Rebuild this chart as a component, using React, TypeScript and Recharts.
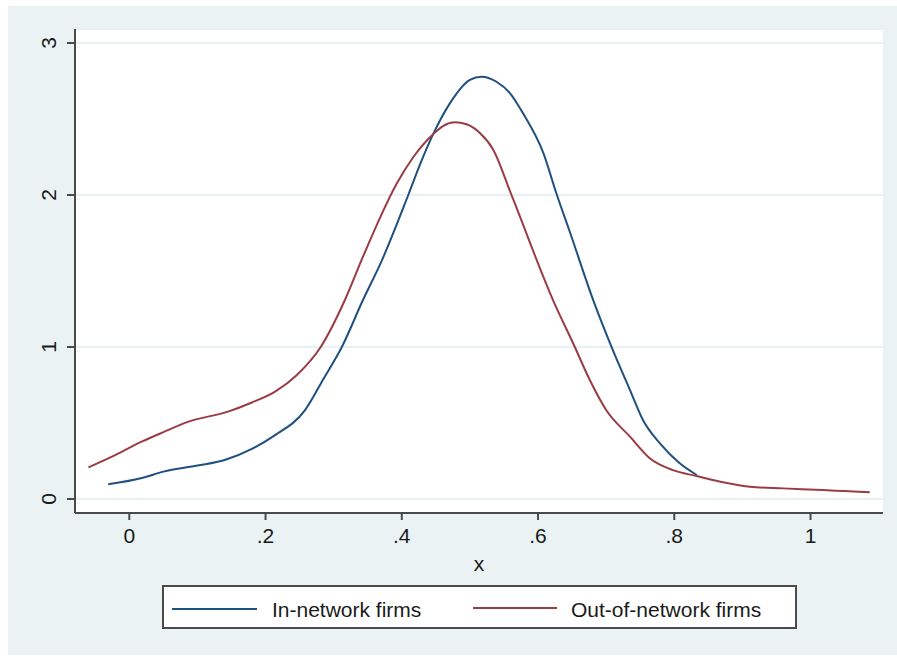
import React from 'react';
import { LineChart, Line, XAxis, YAxis, CartesianGrid } from 'recharts';

// In-network firms (kernel density)
const inNetworkX = [-0.031, 0.02, 0.05, 0.10, 0.14, 0.18, 0.214, 0.258, 0.285, 0.312, 0.343, 0.371, 0.4095, 0.4267, 0.446, 0.4706, 0.50, 0.517, 0.539, 0.559, 0.578, 0.608, 0.627, 0.6465, 0.681, 0.708, 0.735, 0.754, 0.779, 0.808, 0.833];
const inNetworkY = [0.097, 0.14, 0.18, 0.22, 0.257, 0.33, 0.42, 0.585, 0.79, 1.0, 1.309, 1.572, 2.0, 2.20, 2.40, 2.603, 2.757, 2.778, 2.745, 2.669, 2.537, 2.274, 2.01, 1.76, 1.309, 1.0, 0.717, 0.52, 0.366, 0.235, 0.158];

// Out-of-network firms (kernel density)
const outNetworkX = [-0.06, -0.02, 0.018, 0.05, 0.087, 0.145, 0.18, 0.214, 0.246, 0.281, 0.3165, 0.343, 0.368, 0.392, 0.417, 0.446, 0.461, 0.478, 0.495, 0.515, 0.534, 0.561, 0.622, 0.654, 0.676, 0.70, 0.735, 0.764, 0.798, 0.833, 0.866, 0.911, 0.96, 1.018, 1.05, 1.087];
const outNetworkY = [0.208, 0.29, 0.377, 0.44, 0.509, 0.575, 0.635, 0.706, 0.816, 1.0, 1.309, 1.594, 1.85, 2.07, 2.25, 2.40, 2.455, 2.478, 2.465, 2.406, 2.30, 2.0, 1.309, 1.0, 0.783, 0.586, 0.41, 0.268, 0.19, 0.151, 0.115, 0.081, 0.07, 0.059, 0.052, 0.044];

const seriesNames = ['In-network firms', 'Out-of-network firms'];
const seriesColors = ['#1f5080', '#9a3c44'];

const xTicks = [0, 0.2, 0.4, 0.6, 0.8, 1];
const xTickLabels = ['0', '.2', '.4', '.6', '.8', '1'];
const yTicks = [0, 1, 2, 3];
const yTickLabels = ['0', '1', '2', '3'];
const xAxisTitle = 'x';

const inNetworkData = inNetworkX.map((x, i) => ({ x, y: inNetworkY[i] }));
const outNetworkData = outNetworkX.map((x, i) => ({ x, y: outNetworkY[i] }));

const FONT = '"Liberation Sans", Arial, Helvetica, sans-serif';
const TEXT_COLOR = '#1a1a1a';
const AXIS_COLOR = '#4a4a4a';

const XTick = (props: any) => {
  const { x, y, payload } = props;
  const idx = xTicks.indexOf(payload.value);
  const label = idx >= 0 ? xTickLabels[idx] : String(payload.value);
  return (
    <text x={x} y={y} dy={15} textAnchor="middle" fontFamily={FONT} fontSize={21} fill={TEXT_COLOR}>
      {label}
    </text>
  );
};

const YTick = (props: any) => {
  const { y, payload } = props;
  const idx = yTicks.indexOf(payload.value);
  const label = idx >= 0 ? yTickLabels[idx] : String(payload.value);
  const cx = 40;
  return (
    <text
      x={cx}
      y={y}
      dy="0.36em"
      transform={`rotate(-90, ${cx}, ${y})`}
      textAnchor="middle"
      fontFamily={FONT}
      fontSize={21}
      fill={TEXT_COLOR}
    >
      {label}
    </text>
  );
};

const XLabel = (props: any) => {
  const vb = props.viewBox || {};
  const cx = (vb.x || 0) + (vb.width || 0) / 2;
  const y = (vb.y || 0) + 58;
  return (
    <text x={cx} y={y} textAnchor="middle" fontFamily={FONT} fontSize={21} fill={TEXT_COLOR}>
      {xAxisTitle}
    </text>
  );
};

export default function App() {
  return (
    <div
      style={{
        position: 'absolute',
        left: 8,
        top: 6,
        width: 889,
        height: 649,
        background: '#eaf2f3',
      }}
    >
      <LineChart
        width={889}
        height={649}
        margin={{ top: 23, right: 14, bottom: 0, left: 0 }}
      >
        <CartesianGrid
          vertical={false}
          horizontal={true}
          fill="#ffffff"
          stroke="#e3ecef"
          strokeWidth={1.5}
        />
        <XAxis
          type="number"
          dataKey="x"
          domain={[-0.0797, 1.1064]}
          allowDataOverflow
          ticks={xTicks}
          interval={0}
          height={142}
          tickSize={7}
          tickMargin={8}
          tick={<XTick />}
          axisLine={{ stroke: AXIS_COLOR, strokeWidth: 2 }}
          tickLine={{ stroke: AXIS_COLOR, strokeWidth: 2 }}
          label={<XLabel />}
        />
        <YAxis
          type="number"
          dataKey="y"
          domain={[-0.092, 3.092]}
          allowDataOverflow
          ticks={yTicks}
          interval={0}
          width={67}
          tickSize={8}
          tickMargin={4}
          tick={<YTick />}
          axisLine={{ stroke: AXIS_COLOR, strokeWidth: 2 }}
          tickLine={{ stroke: AXIS_COLOR, strokeWidth: 2 }}
        />
        <Line
          data={inNetworkData}
          dataKey="y"
          name={seriesNames[0]}
          type="monotone"
          stroke={seriesColors[0]}
          strokeWidth={2}
          dot={false}
          activeDot={false}
          isAnimationActive={false}
        />
        <Line
          data={outNetworkData}
          dataKey="y"
          name={seriesNames[1]}
          type="monotone"
          stroke={seriesColors[1]}
          strokeWidth={2}
          dot={false}
          activeDot={false}
          isAnimationActive={false}
        />
      </LineChart>
      <div
        style={{
          position: 'absolute',
          left: 154,
          top: 579,
          width: 635,
          height: 44,
          boxSizing: 'border-box',
          border: `2px solid ${AXIS_COLOR}`,
          background: '#ffffff',
          fontFamily: FONT,
          fontSize: 21,
          color: TEXT_COLOR,
        }}
      >
        <div style={{ position: 'absolute', left: 8, top: 21, width: 85, height: 2, background: seriesColors[0] }} />
        <span style={{ position: 'absolute', left: 108, top: 12, lineHeight: 1, whiteSpace: 'nowrap' }}>
          {seriesNames[0]}
        </span>
        <div style={{ position: 'absolute', left: 309, top: 20, width: 84, height: 2, background: seriesColors[1] }} />
        <span style={{ position: 'absolute', left: 407, top: 12, lineHeight: 1, whiteSpace: 'nowrap' }}>
          {seriesNames[1]}
        </span>
      </div>
    </div>
  );
}
